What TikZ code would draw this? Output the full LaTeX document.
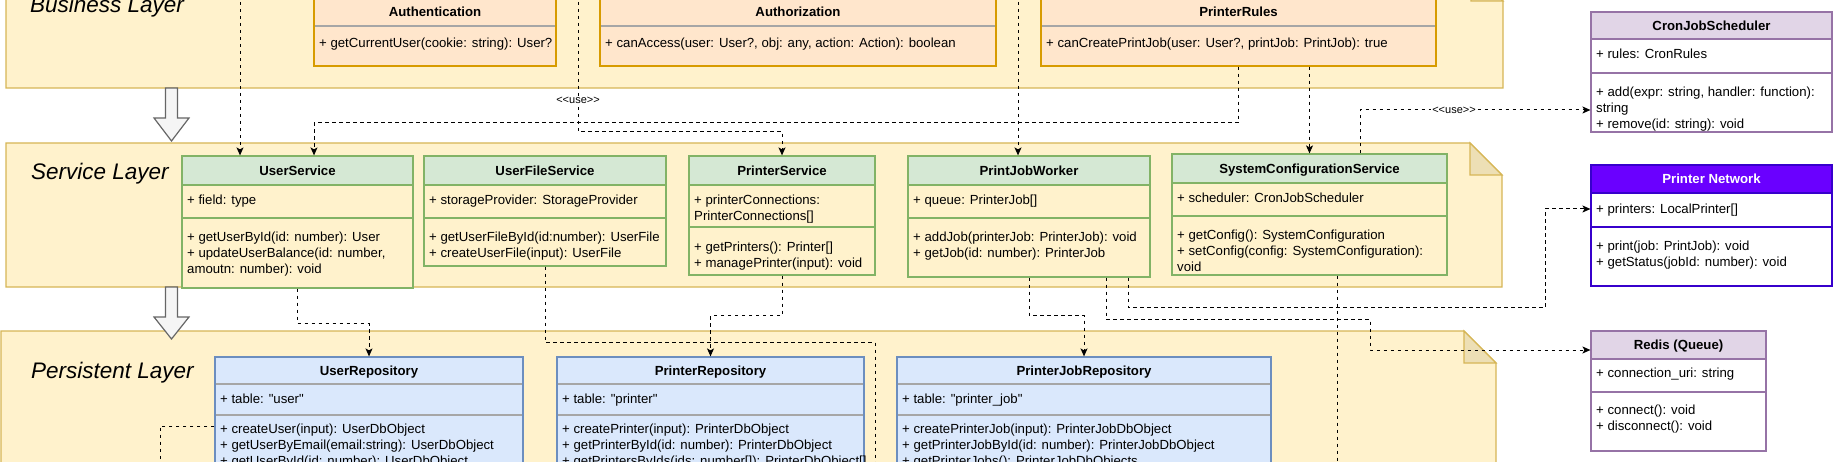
\documentclass[tikz,border=0pt]{standalone}
\usepackage{fontspec}
\newfontfamily\dgfont{Liberation Sans}
\usetikzlibrary{arrows.meta,fit}

% layer colours
\definecolor{layerfill}{HTML}{FFF2CC}
\definecolor{layerline}{HTML}{D6B656}
\definecolor{layerfold}{HTML}{EDDFB5}
% class colour schemes: Head, Body, Line, Sep, Text
\definecolor{bizHead}{HTML}{FFE6CC}\definecolor{bizBody}{HTML}{FFE6CC}
\definecolor{bizLine}{HTML}{D79B00}\definecolor{bizSep}{HTML}{A6A6A6}\colorlet{bizText}{black}
\definecolor{svcHead}{HTML}{D5E8D4}\definecolor{svcBody}{HTML}{FFF2CC}
\definecolor{svcLine}{HTML}{82B366}\definecolor{svcSep}{HTML}{82B366}\colorlet{svcText}{black}
\definecolor{repoHead}{HTML}{DAE8FC}\definecolor{repoBody}{HTML}{DAE8FC}
\definecolor{repoLine}{HTML}{6C8EBF}\definecolor{repoSep}{HTML}{A6A6A6}\colorlet{repoText}{black}
\definecolor{extHead}{HTML}{E1D5E7}\definecolor{extBody}{HTML}{FFFFFF}
\definecolor{extLine}{HTML}{9673A6}\definecolor{extSep}{HTML}{9673A6}\colorlet{extText}{black}
\definecolor{netHead}{HTML}{6A00FF}\definecolor{netBody}{HTML}{FFFFFF}
\definecolor{netLine}{HTML}{3700CC}\definecolor{netSep}{HTML}{3700CC}\colorlet{netText}{white}
\definecolor{blockfill}{HTML}{F5F5F5}
\definecolor{blockline}{HTML}{666666}

\tikzset{
  layer/.style={fill=layerfill, draw=layerline, line width=1.2pt},
  fold/.style={fill=layerfold, draw=layerline, line width=1.2pt},
  layertitle/.style={anchor=base west, inner sep=0pt, font=\dgfont\itshape\fontsize{22.5}{27}\selectfont},
  classframe/.style={draw, line width=1.2pt, inner sep=0pt},
  classtitle/.style={inner sep=0pt, text height=9.5pt, text depth=0pt, font=\dgfont\bfseries\fontsize{13.2}{15.6}\selectfont},
  members/.style={anchor=north west, align=left, inner sep=0pt, font=\dgfont\fontsize{13.2}{15.6}\selectfont},
  blockarrow/.style={fill=blockfill, draw=blockline, line width=1.2pt},
  dashline/.style={line width=1pt, dash pattern=on 3.5pt off 3.5pt},
  dep/.style={dashline, -{Stealth[length=8pt,width=7pt,inset=2pt]}},
  uselabel/.style={fill=white, inner sep=1pt, font=\dgfont\fontsize{11}{13}\selectfont}
}

% \umlclass{name}{scheme}{x1}{y1}{x2}{y2}{header bottom}{attribute bottom}{title}
\newcommand{\umlclass}[9]{%
  \fill[#2Body] (#3,#4) rectangle (#5,#6);
  \fill[#2Head] (#3,#4) rectangle (#5,#7);
  \draw[#2Sep, line width=1.2pt] (#3,#7) -- (#5,#7) (#3,#8) -- (#5,#8);
  \node[classframe, draw=#2Line, fit={(#3,#4) (#5,#6)}] (#1) {};
  \node[classtitle, text=#2Text] (#1-title) at ({(#3+#5)/2},{(#4+#7)/2}) {#9};
}
% \umlrows{name}{x1}{centre of first row}{rows}
\newcommand{\umlrows}[4]{%
  \node[members] (#1) at (#2+5,#3-6.2) {\strut #4};
}

\begin{document}
\begin{tikzpicture}[x=1pt,y=-1pt]
\useasboundingbox (0,0) rectangle (1846,462);
\clip (0,0) rectangle (1846,462);
\fill[white] (0,0) rectangle (1846,462);

% layers
\draw[layer] (6,-31) -- (1471,-31) -- (1503,1) -- (1503,88) -- (6,88) -- cycle;
\draw[fold] (1471,-31) -- (1471,1) -- (1503,1) -- cycle;
\node[layertitle] (bizlabel) at (30,13) {Business Layer};

\draw[layer] (6,143) -- (1470,143) -- (1502,175) -- (1502,287) -- (6,287) -- cycle;
\draw[fold] (1470,143) -- (1470,175) -- (1502,175) -- cycle;
\node[layertitle] (svclabel) at (31,180) {Service Layer};

\draw[layer] (1,331) -- (1464,331) -- (1496,363) -- (1496,480) -- (1,480) -- cycle;
\draw[fold] (1464,331) -- (1464,363) -- (1496,363) -- cycle;
\node[layertitle] (repolabel) at (31,378) {Persistent Layer};

% layer arrows
\draw[blockarrow] (165.5,88) -- (177.5,88) -- (177.5,118) -- (189,118) -- (171.5,141)
                  -- (154,118) -- (165.5,118) -- cycle;
\draw[blockarrow] (165.5,287) -- (177.5,287) -- (177.5,317) -- (189,317) -- (171.5,339)
                  -- (154,317) -- (165.5,317) -- cycle;

% business layer
\umlclass{auth}{biz}{314}{-2}{556}{66}{26}{26}{Authentication}
\umlrows{auth-m}{314}{42.7}{+ getCurrentUser(cookie: string): User?}
\umlclass{authz}{biz}{600}{-2}{996}{66}{26}{26}{Authorization}
\umlrows{authz-m}{600}{42.7}{+ canAccess(user: User?, obj: any, action: Action): boolean}
\umlclass{prules}{biz}{1041}{-2}{1436}{66}{26}{26}{PrinterRules}
\umlrows{prules-m}{1041}{42.7}{+ canCreatePrintJob(user: User?, printJob: PrintJob): true}

% service layer
\umlclass{usersvc}{svc}{182}{156}{413}{288}{185}{218}{UserService}
\umlrows{usersvc-a}{182}{200}{+ field: type}
\umlrows{usersvc-m}{182}{237}{+ getUserById(id: number): User\\ + updateUserBalance(id: number,\\ amoutn: number): void}
\umlclass{filesvc}{svc}{424}{156}{666}{266}{185}{218}{UserFileService}
\umlrows{filesvc-a}{424}{200}{+ storageProvider: StorageProvider}
\umlrows{filesvc-m}{424}{237}{+ getUserFileById(id:number): UserFile\\ + createUserFile(input): UserFile}
\umlclass{printersvc}{svc}{689}{156}{875}{275}{185}{227}{PrinterService}
\umlrows{printersvc-a}{689}{200}{+ printerConnections:\\ PrinterConnections[]}
\umlrows{printersvc-m}{689}{247}{+ getPrinters(): Printer[]\\ + managePrinter(input): void}
\umlclass{jobworker}{svc}{908}{156}{1150}{277}{185}{218}{PrintJobWorker}
\umlrows{jobworker-a}{908}{200}{+ queue: PrinterJob[]}
\umlrows{jobworker-m}{908}{237}{+ addJob(printerJob: PrinterJob): void\\ + getJob(id: number): PrinterJob}
\umlclass{configsvc}{svc}{1172}{154}{1447}{275}{183}{216}{SystemConfigurationService}
\umlrows{configsvc-a}{1172}{198}{+ scheduler: CronJobScheduler}
\umlrows{configsvc-m}{1172}{235}{+ getConfig(): SystemConfiguration\\ + setConfig(config: SystemConfiguration):\\ void}

% persistent layer
\umlclass{userrepo}{repo}{215}{357}{523}{480}{384}{415}{UserRepository}
\umlrows{userrepo-a}{215}{399}{+ table: "user"}
\umlrows{userrepo-m}{215}{429}{+ createUser(input): UserDbObject\\ + getUserByEmail(email:string): UserDbObject\\ + getUserById(id: number): UserDbObject}
\umlclass{printerrepo}{repo}{557}{357}{864}{480}{384}{415}{PrinterRepository}
\umlrows{printerrepo-a}{557}{399}{+ table: "printer"}
\umlrows{printerrepo-m}{557}{429}{+ createPrinter(input): PrinterDbObject\\ + getPrinterById(id: number): PrinterDbObject\\ + getPrintersByIds(ids: number[]): PrinterDbObject[]}
\umlclass{jobrepo}{repo}{897}{357}{1271}{480}{384}{415}{PrinterJobRepository}
\umlrows{jobrepo-a}{897}{399}{+ table: "printer\_job"}
\umlrows{jobrepo-m}{897}{429}{+ createPrinterJob(input): PrinterJobDbObject\\ + getPrinterJobById(id: number): PrinterJobDbObject\\ + getPrinterJobs(): PrinterJobDbObjects}

% outside the layers
\umlclass{cron}{ext}{1591}{12}{1832}{132}{39}{73}{CronJobScheduler}
\umlrows{cron-a}{1591}{54}{+ rules: CronRules}
\umlrows{cron-m}{1591}{92}{+ add(expr: string, handler: function):\\ string\\ + remove(id: string): void}
\umlclass{network}{net}{1591}{165}{1832}{286}{193}{227}{Printer Network}
\umlrows{network-a}{1591}{209}{+ printers: LocalPrinter[]}
\umlrows{network-m}{1591}{246}{+ print(job: PrintJob): void\\ + getStatus(jobId: number): void}
\umlclass{redis}{ext}{1591}{331}{1766}{451}{359}{392}{Redis (Queue)}
\umlrows{redis-a}{1591}{373}{+ connection\_uri: string}
\umlrows{redis-m}{1591}{410}{+ connect(): void\\ + disconnect(): void}

% loose ends above and below the picture
\coordinate (inA) at (240,-40);
\coordinate (inB) at (578,-40);
\coordinate (inC) at (1018,-40);
\coordinate (outA) at (875,475);
\coordinate (outB) at (1337,475);
\coordinate (outC) at (160,475);

% dependencies
\draw[dep] (inA) -- (inA |- usersvc.north);
\draw[dep] (inB) -- ++(0,172) -| (printersvc.north);
\node[uselabel] (useA) at (578,100) {<<use>>};
\draw[dep] (inC) -- (inC |- jobworker.north);
\draw[dep] (prules.south) -- ++(0,56) -| ([xshift=16.5pt]usersvc.north);
\draw[dep] (configsvc.north |- prules.south) -- (configsvc.north);
\draw[dep] ([xshift=50.5pt]configsvc.north) |- ([yshift=-38pt]cron.west);
\node[uselabel] (useB) at (1454,110) {<<use>>};

\draw[dep] (usersvc.south) -- ++(0,35) -| (userrepo.north);
\draw[dashline] (filesvc.south) -- ++(0,76) -| (outA);
\draw[dep] (printersvc.south) -- ++(0,40) -| (printerrepo.north);
\draw[dep] (jobworker.south) -- ++(0,38) -| (jobrepo.north);
\draw[dep] ([xshift=77pt]jobworker.south) -- ++(0,42) -- ++(264,0) |- ([yshift=41pt]redis.west);
\draw[dep] ([xshift=99pt]jobworker.south) -- ++(0,30) -- ++(417,0) |- ([yshift=16.5pt]network.west);
\draw[dashline] (configsvc.south -| outB) -- (outB);
\draw[dashline] ([yshift=-7.5pt]userrepo.west) -| (outC);
\end{tikzpicture}
\end{document}
